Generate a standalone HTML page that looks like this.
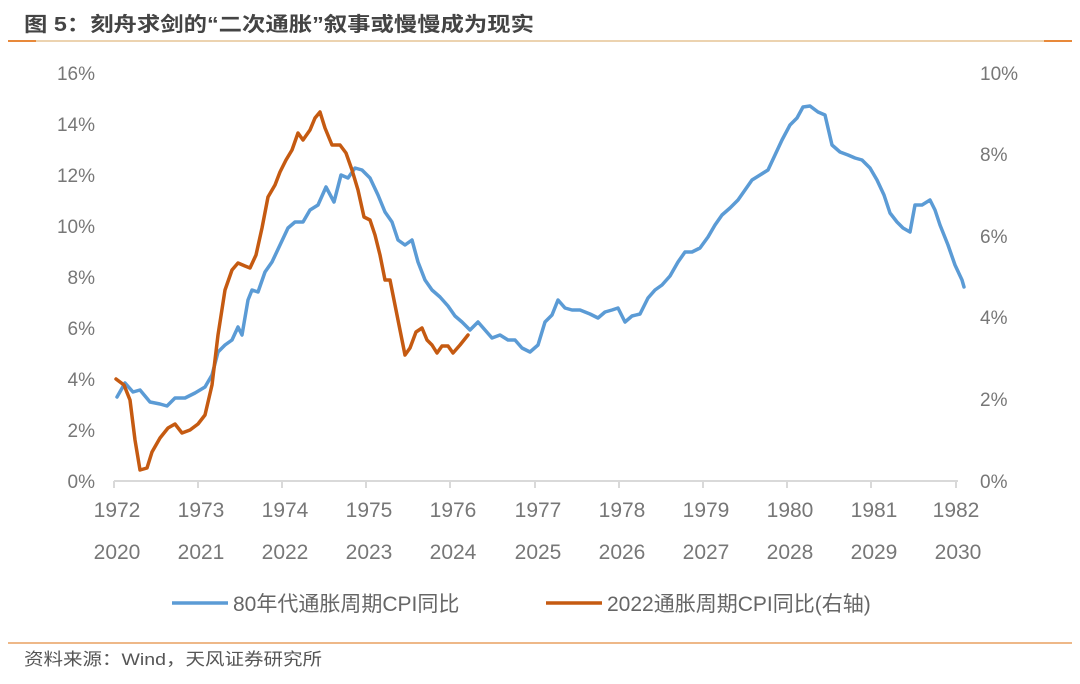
<!DOCTYPE html><html><head><meta charset="utf-8"><style>
body{margin:0;background:#fff;width:1080px;height:679px;overflow:hidden;font-family:"Liberation Sans","Noto Sans CJK SC",sans-serif}
</style></head><body>
<svg width="1080" height="679" xmlns="http://www.w3.org/2000/svg" font-family="Liberation Sans, Noto Sans CJK SC, sans-serif">
<text x="24" y="31" font-size="20" font-weight="bold" fill="#444" textLength="510" lengthAdjust="spacingAndGlyphs">图 5：刻舟求剑的“二次通胀”叙事或慢慢成为现实</text>
<line x1="8" y1="41" x2="1072" y2="41" stroke="#ecd3b0" stroke-width="2"/>
<line x1="8" y1="41" x2="36" y2="41" stroke="#e8893a" stroke-width="2"/>
<line x1="1044" y1="41" x2="1072" y2="41" stroke="#e8893a" stroke-width="2"/>
<g font-size="19" fill="#777" text-anchor="end">
<text x="95" y="488">0%</text><text x="95" y="437">2%</text><text x="95" y="386">4%</text><text x="95" y="335">6%</text><text x="95" y="284">8%</text><text x="95" y="233">10%</text><text x="95" y="182">12%</text><text x="95" y="131">14%</text><text x="95" y="80">16%</text>
</g>
<g font-size="19" fill="#777" text-anchor="start">
<text x="980" y="488">0%</text><text x="980" y="406">2%</text><text x="980" y="324">4%</text><text x="980" y="243">6%</text><text x="980" y="161">8%</text><text x="980" y="80">10%</text>
</g>
<line x1="114" y1="481" x2="958" y2="481" stroke="#d9d9d9" stroke-width="2"/>
<g stroke="#d9d9d9" stroke-width="2">
<line x1="114" y1="481" x2="114" y2="488"/><line x1="198" y1="481" x2="198" y2="488"/><line x1="282" y1="481" x2="282" y2="488"/><line x1="366" y1="481" x2="366" y2="488"/><line x1="450" y1="481" x2="450" y2="488"/><line x1="535" y1="481" x2="535" y2="488"/><line x1="619" y1="481" x2="619" y2="488"/><line x1="703" y1="481" x2="703" y2="488"/><line x1="787" y1="481" x2="787" y2="488"/><line x1="871" y1="481" x2="871" y2="488"/><line x1="956" y1="481" x2="956" y2="488"/>
</g>
<g font-size="21" fill="#777" text-anchor="middle">
<text x="117" y="517">1972</text><text x="201" y="517">1973</text><text x="285" y="517">1974</text><text x="369" y="517">1975</text><text x="453" y="517">1976</text><text x="538" y="517">1977</text><text x="622" y="517">1978</text><text x="706" y="517">1979</text><text x="790" y="517">1980</text><text x="874" y="517">1981</text><text x="956" y="517">1982</text>
<text x="117" y="559">2020</text><text x="201" y="559">2021</text><text x="285" y="559">2022</text><text x="369" y="559">2023</text><text x="453" y="559">2024</text><text x="538" y="559">2025</text><text x="622" y="559">2026</text><text x="706" y="559">2027</text><text x="790" y="559">2028</text><text x="874" y="559">2029</text><text x="958" y="559">2030</text>
</g>
<polyline fill="none" stroke="#5b9bd5" stroke-width="3.5" stroke-linejoin="round" stroke-linecap="round" points="117,397 125,383 133,392 140,390 150,402 160,404 167,406 175,398 185,398 195,393 205,387 212,375 218,352 225,345 232,340 238,327 242,335 248,300 252,290 258,292 265,272 272,262 280,245 288,228 295,222 303,222 310,210 318,205 326,187 334,202 341,175 348,178 355,168 362,170 370,178 378,195 385,212 392,222 398,240 405,245 412,240 418,262 425,280 432,290 440,297 448,306 455,316 462,322 470,330 478,322 485,330 492,338 500,335 508,340 515,340 522,348 530,352 538,345 545,322 552,315 558,300 565,308 572,310 580,310 590,314 598,318 605,312 612,310 618,308 625,322 632,316 640,314 648,298 655,290 662,285 670,276 678,262 685,252 692,252 700,248 708,237 715,225 722,215 730,208 738,200 745,190 752,180 760,175 768,170 775,155 782,140 790,125 797,118 803,107 810,106 818,112 825,115 832,145 840,152 848,155 855,158 862,160 870,168 877,180 884,195 890,213 897,222 903,228 910,232 915,205 922,205 930,200 935,210 940,225 948,245 955,265 962,280 964,287"/>
<polyline fill="none" stroke="#c55a11" stroke-width="3.5" stroke-linejoin="round" stroke-linecap="round" points="116,379 124,385 130,400 135,440 140,470 147,468 152,452 160,438 168,428 175,424 182,433 190,430 198,424 205,415 212,385 218,335 225,290 232,270 238,263 245,266 250,268 256,255 262,228 268,197 275,185 280,172 286,160 292,150 298,133 303,140 310,130 315,118 320,112 325,128 332,145 340,145 346,153 352,170 358,190 364,217 370,220 375,235 380,255 385,280 390,280 394,300 400,330 405,355 410,348 416,332 422,328 427,340 432,345 437,353 442,346 448,346 453,353 460,345 468,335"/>
<line x1="172" y1="603" x2="228" y2="603" stroke="#5b9bd5" stroke-width="3.5"/>
<text x="233" y="611" font-size="21" fill="#666">80年代通胀周期CPI同比</text>
<line x1="546" y1="603" x2="602" y2="603" stroke="#c55a11" stroke-width="3.5"/>
<text x="607" y="611" font-size="21" fill="#666">2022通胀周期CPI同比(右轴)</text>
<line x1="8" y1="643" x2="1072" y2="643" stroke="#e8a060" stroke-width="1.5"/>
<text x="24" y="665" font-size="17" fill="#555" textLength="298" lengthAdjust="spacingAndGlyphs">资料来源：Wind，天风证券研究所</text>
</svg>
</body></html>
